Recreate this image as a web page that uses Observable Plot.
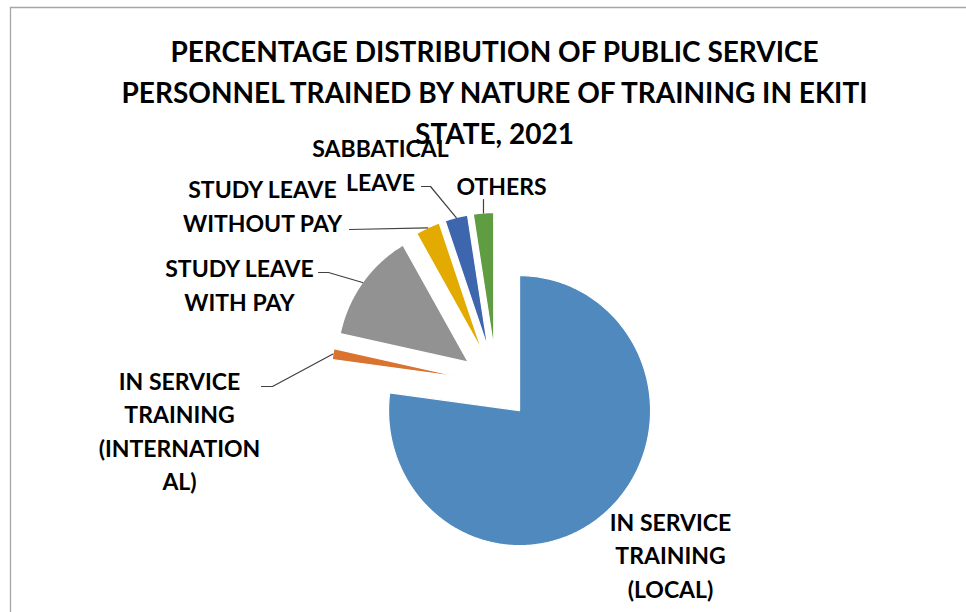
<!DOCTYPE html>
<html>
<head>
<meta charset="utf-8">
<script src="https://cdn.jsdelivr.net/npm/d3@7"></script>
<script src="https://cdn.jsdelivr.net/npm/@observablehq/plot@0.6"></script>
<style>
  html, body { margin: 0; padding: 0; background: #fff; }
  #chart svg { display: block; }
</style>
</head>
<body>
<div id="chart"></div>
<script>
// ---------- data ----------
const categories = [
  "IN SERVICE TRAINING (LOCAL)",
  "IN SERVICE TRAINING (INTERNATIONAL)",
  "STUDY LEAVE WITH PAY",
  "STUDY LEAVE WITHOUT PAY",
  "SABBATICAL LEAVE",
  "OTHERS"
];
const values = [77.1, 1.3, 13.3, 3.0, 2.8, 2.5];
const labelLines = [
  ["IN SERVICE", "TRAINING", "(LOCAL)"],
  ["IN SERVICE", "TRAINING", "(INTERNATION", "AL)"],
  ["STUDY LEAVE", "WITH PAY"],
  ["STUDY LEAVE", "WITHOUT PAY"],
  ["SABBATICAL", "LEAVE"],
  ["OTHERS"]
];
const titleLines = [
  "PERCENTAGE DISTRIBUTION OF PUBLIC SERVICE",
  "PERSONNEL TRAINED BY NATURE OF TRAINING IN EKITI",
  "STATE, 2021"
];

// ---------- style / layout ----------
const colors = ["#4F89BE", "#DA7230", "#929292", "#E3AA00", "#3D66AE", "#609C42"];
const W = 966, H = 612;
const cx = 496, cy = 383, rx = 131, ry = 135, explode = 35;
const labelPos = [[670, 553], [179, 429], [239, 283], [262, 204], [380, 163], [501, 184]];
// label-side start of leader line and horizontal elbow length (null = no leader)
const leaderStart = [null, [261, 386, 11], [318, 272, 10], [349, 229, 0], [421, 186, 9], [483, 199, 0]];

// ---------- geometry ----------
const pie = d3.pie().sort(null).value(d => d)(values);
const pt = (a, rr, ox, oy) => [ox + Math.sin(a) * rr * rx / 131, oy - Math.cos(a) * rr * ry / 131];

const slicePts = [];
const anchors = [];
pie.forEach((p, i) => {
  const mid = (p.startAngle + p.endAngle) / 2;
  const ox = cx + Math.sin(mid) * explode;
  const oy = cy - Math.cos(mid) * explode * ry / rx;
  slicePts.push({i, x: ox, y: oy});
  const n = Math.max(4, Math.ceil((p.endAngle - p.startAngle) / 0.01));
  for (let k = 0; k <= n; k++) {
    const a = p.startAngle + (p.endAngle - p.startAngle) * k / n;
    const [x, y] = pt(a, 131, ox, oy);
    slicePts.push({i, x, y});
  }
  anchors.push(pt(mid, 131, ox, oy));
});

const leaderPts = [];
leaderStart.forEach((s, i) => {
  if (!s) return;
  leaderPts.push({i, x: s[0], y: s[1]});
  if (s[2]) leaderPts.push({i, x: s[0] + s[2], y: s[1]});
  leaderPts.push({i, x: anchors[i][0], y: anchors[i][1]});
});

const labels = labelLines.map((l, i) => ({text: l.join("\n"), x: labelPos[i][0], y: labelPos[i][1]}));

const font = "Lato, 'Open Sans', sans-serif";

const chart = Plot.plot({
  width: W,
  height: H,
  margin: 0,
  x: {domain: [0, W], range: [0, W], axis: null},
  y: {domain: [0, H], range: [0, H], axis: null},
  style: {background: "#fff", fontFamily: font},
  marks: [
    Plot.ruleY([7], {x1: 10, x2: W, stroke: "#a6a6a6", strokeWidth: 1.3}),
    Plot.ruleX([10], {y1: 7, y2: H, stroke: "#a6a6a6", strokeWidth: 1.3}),
    ...values.map((v, i) => Plot.line(slicePts.filter(d => d.i === i), {
      x: "x", y: "y", curve: "linear-closed",
      fill: colors[i], stroke: "#fff", strokeWidth: 1.2
    })),
    Plot.line(leaderPts, {x: "x", y: "y", z: "i", stroke: "#404040", strokeWidth: 1.2}),
    Plot.text(labels, {
      x: "x", y: "y", text: "text", fontSize: 23, fontWeight: "bold",
      lineHeight: 33.5 / 23, lineAnchor: "middle", textAnchor: "middle", fill: "#000"
    }),
    Plot.text([titleLines.join("\n")], {
      x: 494, y: 89, text: d => d, fontSize: 28, fontWeight: "bold",
      lineHeight: 41 / 28, lineAnchor: "middle", textAnchor: "middle", fill: "#000"
    })
  ]
});
document.getElementById("chart").appendChild(chart);
</script>
</body>
</html>
